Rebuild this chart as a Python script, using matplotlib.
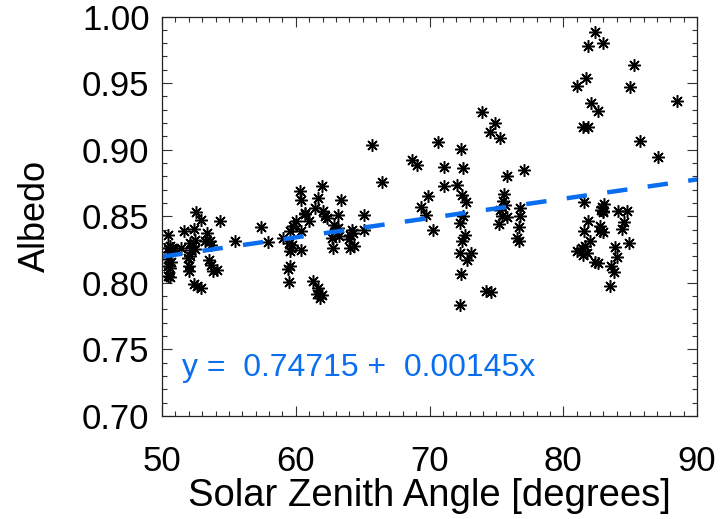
import matplotlib.pyplot as plt
import numpy as np
from matplotlib.ticker import MultipleLocator

plt.rcParams["font.family"] = ["Liberation Sans", "DejaVu Sans"]

# solar zenith angle [deg] and albedo
sza = [
    50.45, 50.60, 50.75, 50.45, 50.85, 50.55, 50.45, 50.65, 50.45, 50.60, 50.45, 50.57,
    51.64, 52.39, 52.52, 52.89, 54.31, 51.45, 52.10, 52.30, 52.45, 52.20, 52.50, 51.94,
    52.07, 52.00, 52.00, 52.39, 52.64, 52.89, 53.39, 53.19, 53.56, 53.69, 53.51, 53.64,
    53.81, 54.13, 55.43, 57.38, 57.93, 59.05,
    59.55, 59.79, 60.04, 60.29, 60.37, 60.67, 60.42, 59.50, 59.65, 59.75, 59.60, 60.37,
    59.55, 59.42, 59.47, 61.99, 66.42, 61.69, 63.36, 61.44, 62.01, 60.69, 62.19, 62.31,
    61.01, 63.14, 65.10, 62.86, 63.18, 62.93, 64.18, 64.06, 64.30, 64.00, 65.10, 62.69,
    63.26, 62.76, 64.06, 64.36, 61.31, 61.69, 61.57, 61.94, 61.81, 65.68,
    73.95, 74.90, 74.52, 75.29, 70.66, 72.33, 68.67, 69.04, 71.10, 72.48, 77.07, 75.82,
    71.10, 72.06, 72.41, 72.73, 69.86, 69.36, 69.71, 70.24, 75.60, 75.52, 75.64, 75.27,
    75.40, 75.77, 75.20, 76.77, 76.77, 76.69, 76.52, 76.69, 72.53, 72.28, 72.65, 72.41,
    72.28, 73.10, 72.78, 72.33, 74.20, 74.60, 72.28,
    82.37, 81.87, 82.95, 85.27, 81.68, 81.00, 84.99, 88.48, 82.07, 82.62, 81.50, 81.83,
    85.74, 87.06, 81.58, 82.87, 83.07, 82.80, 82.95, 83.00, 84.12, 84.74, 81.83, 84.56,
    81.58, 82.75, 84.41, 83.00, 82.75, 82.00, 84.92, 81.00, 81.38, 81.63, 81.50, 81.75,
    83.87, 84.00, 82.37, 82.62, 83.57, 83.82, 83.50,
]
albedo = [
    0.8356, 0.8275, 0.8265, 0.8260, 0.8250, 0.8230, 0.8179, 0.8155, 0.8124, 0.8110, 0.8053, 0.8041,
    0.8386, 0.8404, 0.8529, 0.8474, 0.8461, 0.8261, 0.8300, 0.8280, 0.8320, 0.8250, 0.8255, 0.8186,
    0.8204, 0.8129, 0.8091, 0.7994, 0.7974, 0.7961, 0.8374, 0.8311, 0.8311, 0.8286, 0.8174, 0.8136,
    0.8086, 0.8099, 0.8311, 0.8419, 0.8304, 0.8336,
    0.8386, 0.8429, 0.8461, 0.8686, 0.8624, 0.8516, 0.8386, 0.8299, 0.8261, 0.8286, 0.8236, 0.8249,
    0.8124, 0.8104, 0.8004, 0.8729, 0.8754, 0.8636, 0.8624, 0.8561, 0.8536, 0.8524, 0.8499, 0.8486,
    0.8466, 0.8509, 0.8509, 0.8436, 0.8411, 0.8386, 0.8399, 0.8361, 0.8374, 0.8329, 0.8399, 0.8336,
    0.8349, 0.8261, 0.8261, 0.8274, 0.8011, 0.7961, 0.7919, 0.7911, 0.7886, 0.9036,
    0.9286, 0.9203, 0.9136, 0.9086, 0.9061, 0.9004, 0.8924, 0.8886, 0.8869, 0.8861, 0.8849, 0.8799,
    0.8729, 0.8731, 0.8661, 0.8604, 0.8649, 0.8569, 0.8509, 0.8399, 0.8669, 0.8611, 0.8586, 0.8549,
    0.8504, 0.8498, 0.8444, 0.8561, 0.8504, 0.8419, 0.8336, 0.8311, 0.8504, 0.8449, 0.8361, 0.8316,
    0.8224, 0.8224, 0.8174, 0.8069, 0.7936, 0.7931, 0.7836,
    0.9886, 0.9779, 0.9799, 0.9636, 0.9536, 0.9479, 0.9469, 0.9369, 0.9349, 0.9291, 0.9169, 0.9169,
    0.9066, 0.8944, 0.8609, 0.8573, 0.8594, 0.8550, 0.8530, 0.8540, 0.8536, 0.8543, 0.8461, 0.8453,
    0.8386, 0.8424, 0.8404, 0.8380, 0.8386, 0.8311, 0.8299, 0.8236, 0.8261, 0.8273, 0.8211, 0.8224,
    0.8269, 0.8191, 0.8153, 0.8149, 0.8124, 0.8078, 0.7979,
]

# linear fit printed on the chart
intercept = 0.74715
slope = 0.00145
fit_x = [50, 90]

blue = "#0a6ef0"

fig = plt.figure(figsize=(7.22, 5.19), dpi=100)
ax = fig.add_axes([0.2244, 0.1985, 0.741, 0.7697])

ax.plot(sza, albedo, linestyle="none", marker=(8, 2, 0), markersize=9,
        markeredgewidth=1.1, color="black")

fx = np.array(fit_x, dtype=float)
ax.plot(fx, intercept + slope * fx, color=blue, linewidth=3.2,
        linestyle=(0, (4.6, 4.6)), solid_capstyle="butt", dash_capstyle="butt")

ax.text(51.5, 0.7363, f"y =  {intercept:.5f} +  {slope:.5f}x", color=blue,
        fontsize=23, va="center", ha="left")

ax.set_xlim(50, 90)
ax.set_ylim(0.70, 1.00)
ax.xaxis.set_major_locator(MultipleLocator(10))
ax.xaxis.set_minor_locator(MultipleLocator(1))
ax.yaxis.set_major_locator(MultipleLocator(0.05))
ax.yaxis.set_minor_locator(MultipleLocator(0.01))
ax.yaxis.set_major_formatter(plt.FormatStrFormatter("%.2f"))

ax.tick_params(which="both", direction="in", top=True, right=True, width=0.8,
               color="#333333", labelsize=25)
ax.tick_params(which="major", length=7.5, pad=9)
ax.tick_params(which="minor", length=3.8)
ax.tick_params(axis="x", pad=21)
for s in ax.spines.values():
    s.set_linewidth(0.9)
    s.set_color("#222222")

ax.set_xlabel("Solar Zenith Angle [degrees]", fontsize=27.5, labelpad=0)
ax.set_ylabel("Albedo", fontsize=26, labelpad=21)

fig.savefig("out.png", dpi=100)
